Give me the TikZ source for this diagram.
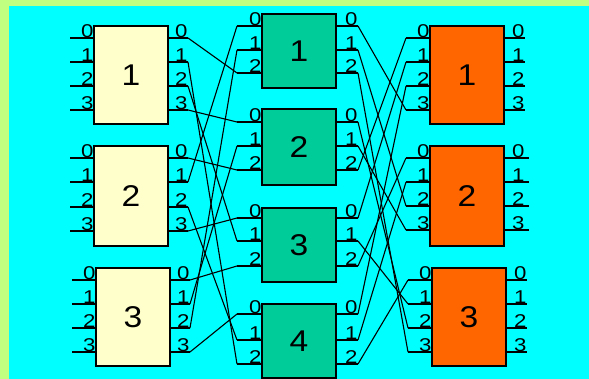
\documentclass[tikz,border=0pt]{standalone}
\usepackage{fontspec}
\setmainfont{Liberation Sans}
\newfontfamily\lblfont[FakeStretch=1.2]{Liberation Sans}
\newfontfamily\numfont[FakeStretch=1.12]{Liberation Sans}
\definecolor{bggreen}{HTML}{C0FF80}
\definecolor{bgcyan}{HTML}{00FFFF}
\definecolor{incol}{HTML}{FFFFCC}
\definecolor{midcol}{HTML}{00CC99}
\definecolor{outcol}{HTML}{FF6600}
\begin{document}
\begin{tikzpicture}[x=1pt,y=-1pt,
  swbox/.style={draw=black, line width=1.5pt, minimum width=74pt, inner sep=0pt, font=\numfont\fontsize{30}{30}\selectfont},
  stub/.style={line width=1.5pt},
  link/.style={line width=1.1pt},
  plab/.style={font=\lblfont\fontsize{18.5}{18.5}\selectfont, inner sep=0.4pt, anchor=south east}]
\fill[bggreen] (0,0) rectangle (589,379);
\fill[bgcyan] (9,6) rectangle (589,379);
\useasboundingbox (0,0) rectangle (589,379);
% input switches
\foreach \n/\xl/\xr/\ya/\yb/\yc/\yd in {1/94/168/38/62/86/110, 2/94/168/158/182/207/231, 3/96/170/280/304/328/352} {
  \foreach \p/\y in {0/\ya,1/\yb,2/\yc,3/\yd} {
    \draw[stub] (\xl-24,\y) -- (\xl,\y);
    \node[plab] at (\xl,\y) {\p};
    \draw[stub] (\xr,\y) -- (\xr+20,\y);
    \coordinate (I\n o\p) at (\xr+20,\y);
    \node[plab] at (\xr+20,\y) {\p};
  }
}
\node[swbox, fill=incol, minimum height=98pt] (I1) at (131,75) {1};
\node[swbox, fill=incol, minimum height=100pt] (I2) at (131,196) {2};
\node[swbox, fill=incol, minimum height=98pt] (I3) at (133,317) {3};
% middle switches
\foreach \n/\ya/\yb/\yc in {1/26/50/73, 2/122/146/170, 3/218/241/266, 4/314/340/364} {
  \foreach \p/\y in {0/\ya,1/\yb,2/\yc} {
    \draw[stub] (237,\y) -- (262,\y);
    \coordinate (M\n i\p) at (237,\y);
    \node[plab] at (262,\y) {\p};
    \draw[stub] (336,\y) -- (358,\y);
    \coordinate (M\n o\p) at (358,\y);
    \node[plab] at (358,\y) {\p};
  }
}
\node[swbox, fill=midcol, minimum height=74pt] (M1) at (299,51) {1};
\node[swbox, fill=midcol, minimum height=76pt] (M2) at (299,147) {2};
\node[swbox, fill=midcol, minimum height=74pt] (M3) at (299,245) {3};
\node[swbox, fill=midcol, minimum height=74pt] (M4) at (299,341) {4};
% output switches
\foreach \n/\xl/\xr/\xe/\ya/\yb/\yc/\yd in {1/430/504/525/38/62/86/110, 2/430/504/529/158/182/206/230, 3/432/506/527/280/304/328/352} {
  \foreach \p/\y in {0/\ya,1/\yb,2/\yc,3/\yd} {
    \draw[stub] (\xl-24,\y) -- (\xl,\y);
    \coordinate (O\n i\p) at (\xl-24,\y);
    \node[plab] at (\xl,\y) {\p};
    \draw[stub] (\xr,\y) -- (\xe,\y);
    \node[plab] at (\xr+21,\y) {\p};
  }
}
\node[swbox, fill=outcol, minimum height=98pt] (O1) at (467,75) {1};
\node[swbox, fill=outcol, minimum height=100pt] (O2) at (467,196) {2};
\node[swbox, fill=outcol, minimum height=98pt] (O3) at (469,317) {3};
% links input -> middle
\draw[link] (I1o0) -- (M1i2);
\draw[link] (I1o1) -- (M4i2);
\draw[link] (I1o2) -- (M3i1);
\draw[link] (I1o3) -- (M2i0);
\draw[link] (I2o0) -- (M2i2);
\draw[link] (I2o1) -- (M1i0);
\draw[link] (I2o2) -- (M4i1);
\draw[link] (I2o3) -- (M3i0);
\draw[link] (I3o0) -- (M3i2);
\draw[link] (I3o1) -- (M2i1);
\draw[link] (I3o2) -- (M1i1);
\draw[link] (I3o3) -- (M4i0);
% links middle -> output
\draw[link] (M1o0) -- (O1i3);
\draw[link] (M1o1) -- (O2i2);
\draw[link] (M1o2) -- (O3i3);
\draw[link] (M2o0) -- (O3i2);
\draw[link] (M2o1) -- (O2i3);
\draw[link] (M2o2) -- (O1i0);
\draw[link] (M3o0) -- (O1i1);
\draw[link] (M3o1) -- (O3i1);
\draw[link] (M3o2) -- (O2i0);
\draw[link] (M4o0) -- (O1i2);
\draw[link] (M4o1) -- (O2i1);
\draw[link] (M4o2) -- (O3i0);
\end{tikzpicture}
\end{document}
